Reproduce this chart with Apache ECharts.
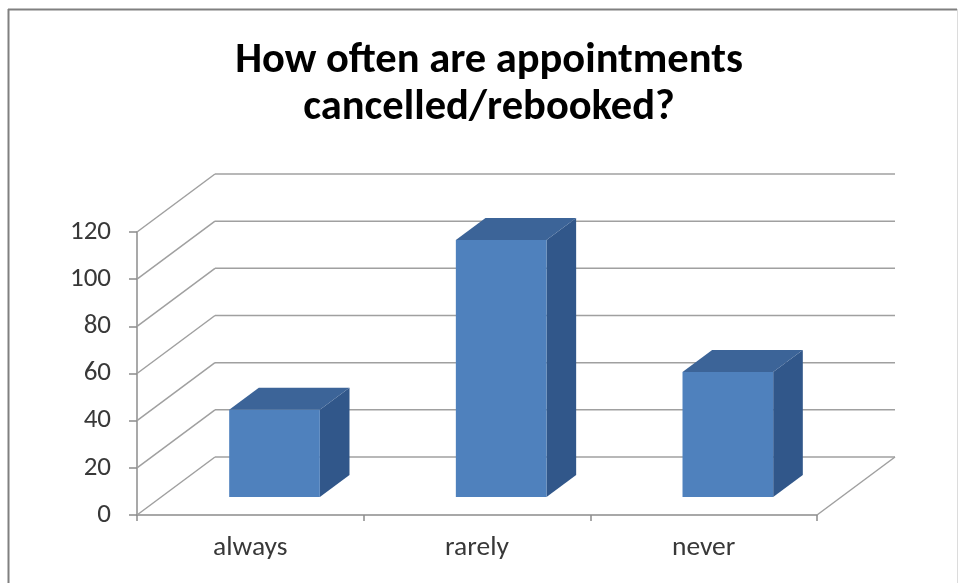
<!DOCTYPE html>
<html>
<head>
<meta charset="utf-8">
<script src="https://cdn.jsdelivr.net/npm/echarts@6/dist/echarts.min.js"></script>
<style>
  html, body { margin: 0; padding: 0; background: #ffffff; }
  #chart { width: 961px; height: 583px; }
</style>
</head>
<body>
<div id="chart"></div>
<script>
// Survey answers
const categories = ['always', 'rarely', 'never'];
const responses = [37, 109, 53];
const valueTicks = [0, 20, 40, 60, 80, 100, 120];

// Pseudo-3D box: offset (px) from the front plane to the back wall
const DEPTH_X = 78;
const DEPTH_Y = -58;
// Columns sit in the middle of the depth
const BAR_FRONT = 0.31;
const BAR_BACK = 0.69;
const BAR_WIDTH = 0.4; // share of a category slot

const FRONT_FILL = '#4F81BD';
const TOP_FILL = '#3C6498';
const SIDE_FILL = '#31578A';
const WALL_LINE = '#a0a0a0';
const AXIS_LINE = '#8c8c8c';
const FONT = 'Carlito, Calibri, Lato, sans-serif';

const chart = echarts.init(document.getElementById('chart'), null, { renderer: 'canvas' });

// Back wall gridlines and the diagonals that run back from the value axis
function renderWall(params, api) {
  const cs = params.coordSys;
  const y = api.coord([0, api.value(1)])[1];
  const x0 = cs.x;
  const x1 = cs.x + cs.width;
  const style = { stroke: WALL_LINE, lineWidth: 1.5 };
  const children = [
    { type: 'line', shape: { x1: x0, y1: y, x2: x0 + DEPTH_X, y2: y + DEPTH_Y }, style },
    { type: 'line', shape: { x1: x0 + DEPTH_X, y1: y + DEPTH_Y, x2: x1 + DEPTH_X, y2: y + DEPTH_Y }, style }
  ];
  if (api.value(1) === 0) {
    // right edge of the floor
    children.push({ type: 'line', shape: { x1: x1, y1: y, x2: x1 + DEPTH_X, y2: y + DEPTH_Y }, style });
  }
  return { type: 'group', children };
}

// Box-shaped column: front face, top face and right side face
function renderColumn(params, api) {
  const cat = api.value(0);
  const val = api.value(1);
  const base = api.coord([cat, 0]);
  const top = api.coord([cat, val]);
  const w = api.size([1, 0])[0] * BAR_WIDTH;
  const fx = DEPTH_X * BAR_FRONT, fy = DEPTH_Y * BAR_FRONT;
  const dx = DEPTH_X * (BAR_BACK - BAR_FRONT), dy = DEPTH_Y * (BAR_BACK - BAR_FRONT);
  const l = base[0] - w / 2 + fx;
  const r = base[0] + w / 2 + fx;
  const yb = base[1] + fy;
  const yt = top[1] + fy;
  return {
    type: 'group',
    children: [
      { type: 'polygon', shape: { points: [[r, yt], [r + dx, yt + dy], [r + dx, yb + dy], [r, yb]] }, style: { fill: SIDE_FILL } },
      { type: 'polygon', shape: { points: [[l, yt], [r, yt], [r + dx, yt + dy], [l + dx, yt + dy]] }, style: { fill: TOP_FILL } },
      { type: 'rect', shape: { x: l, y: yt, width: r - l, height: yb - yt }, style: { fill: FRONT_FILL } }
    ]
  };
}

chart.setOption({
  animation: false,
  backgroundColor: '#ffffff',
  title: {
    text: 'How often are appointments\ncancelled/rebooked?',
    left: 484,
    top: 33,
    textAlign: 'center',
    textStyle: { fontFamily: FONT, fontWeight: 'bold', fontSize: 42.5, lineHeight: 47, color: '#000000' }
  },
  graphic: [
    { type: 'line', shape: { x1: 8.5, y1: 9, x2: 8.5, y2: 583 }, style: { stroke: '#808080', lineWidth: 2 } },
    { type: 'line', shape: { x1: 8, y1: 9.5, x2: 957, y2: 9.5 }, style: { stroke: '#808080', lineWidth: 2 } },
    { type: 'line', shape: { x1: 957.5, y1: 9, x2: 957.5, y2: 583 }, style: { stroke: '#dcdcdc', lineWidth: 1 } }
  ],
  grid: { left: 137, right: 144, top: 232, bottom: 68 },
  xAxis: {
    type: 'category',
    data: categories,
    boundaryGap: true,
    axisLine: { lineStyle: { color: AXIS_LINE, width: 1.5 } },
    axisTick: { show: true, length: 6, lineStyle: { color: AXIS_LINE, width: 1.5 } },
    axisLabel: { margin: 19, fontFamily: FONT, fontSize: 27.5, color: '#383838' },
    splitLine: { show: false }
  },
  yAxis: {
    type: 'value',
    min: 0,
    max: 120,
    interval: 20,
    axisLine: { show: true, lineStyle: { color: AXIS_LINE, width: 1.5 } },
    axisTick: { show: true, length: 8, lineStyle: { color: AXIS_LINE, width: 1.5 } },
    axisLabel: { margin: 26, fontFamily: FONT, fontSize: 27, color: '#383838' },
    splitLine: { show: false }
  },
  series: [
    {
      type: 'custom',
      name: 'wall',
      renderItem: renderWall,
      data: valueTicks.map(v => [0, v]),
      z: 1,
      silent: true
    },
    {
      type: 'custom',
      name: 'responses',
      renderItem: renderColumn,
      data: categories.map((c, i) => [i, responses[i]]),
      z: 3
    }
  ]
});
</script>
</body>
</html>
